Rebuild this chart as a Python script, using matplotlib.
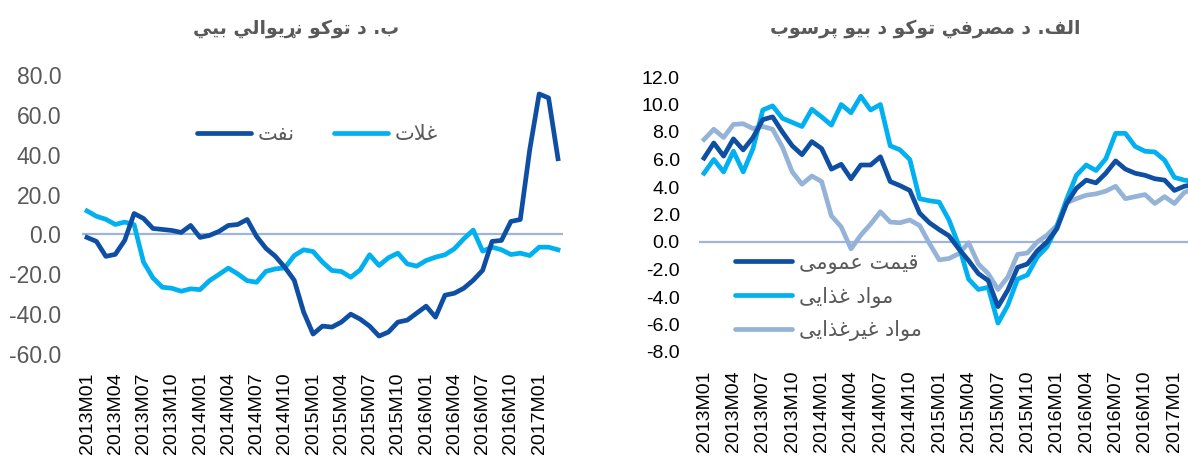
'''
Dos paneles: precios de materias primas (izq.) e inflacion (der.).
'''
import matplotlib
matplotlib.use('Agg')
import matplotlib.pyplot as plt

# Formas de presentacion arabes: (aislada, final, inicial, medial)
FORMS = {
    '\u0627': ('\uFE8D', '\uFE8E', None, None),
    '\u0628': ('\uFE8F', '\uFE90', '\uFE91', '\uFE92'),
    '\u062A': ('\uFE95', '\uFE96', '\uFE97', '\uFE98'),
    '\u062F': ('\uFEA9', '\uFEAA', None, None),
    '\u0630': ('\uFEAB', '\uFEAC', None, None),
    '\u0631': ('\uFEAD', '\uFEAE', None, None),
    '\u0633': ('\uFEB1', '\uFEB2', '\uFEB3', '\uFEB4'),
    '\u0635': ('\uFEB9', '\uFEBA', '\uFEBB', '\uFEBC'),
    '\u0639': ('\uFEC9', '\uFECA', '\uFECB', '\uFECC'),
    '\u063A': ('\uFECD', '\uFECE', '\uFECF', '\uFED0'),
    '\u0641': ('\uFED1', '\uFED2', '\uFED3', '\uFED4'),
    '\u0642': ('\uFED5', '\uFED6', '\uFED7', '\uFED8'),
    '\u0644': ('\uFEDD', '\uFEDE', '\uFEDF', '\uFEE0'),
    '\u0645': ('\uFEE1', '\uFEE2', '\uFEE3', '\uFEE4'),
    '\u0646': ('\uFEE5', '\uFEE6', '\uFEE7', '\uFEE8'),
    '\u0648': ('\uFEED', '\uFEEE', None, None),
    '\u064A': ('\uFEF1', '\uFEF2', '\uFEF3', '\uFEF4'),
    '\u067E': ('\uFB56', '\uFB57', '\uFB58', '\uFB59'),
    '\u06A9': ('\uFB8E', '\uFB8F', '\uFB90', '\uFB91'),
    '\u06CC': ('\uFBFC', '\uFBFD', '\uFBFE', '\uFBFF'),
    '\u0693': ('\u0693', '\u0693', None, None),
}

def shape(txt):
    '''Une las letras y devuelve el texto en orden visual.'''
    out = []
    k = 0
    while k < len(txt):
        c = txt[k]
        if c not in FORMS:
            out.append(c)
            k += 1
            continue
        prev = txt[k-1] if k > 0 else ''
        jp = prev in FORMS and FORMS[prev][2] is not None
        nxt = txt[k+1] if k+1 < len(txt) else ''
        if c == '\u0644' and nxt == '\u0627':
            out.append('\uFEFC' if jp else '\uFEFB')
            k += 2
            continue
        jn = nxt in FORMS and FORMS[c][2] is not None
        iso, fin, ini, med = FORMS[c]
        if jp and jn:
            out.append(med)
        elif jp:
            out.append(fin)
        elif jn:
            out.append(ini)
        else:
            out.append(iso)
        k += 1
    return ''.join(out)[::-1]

#Datos
months = [f'{y}M{m:02d}' for y in range(2013, 2018) for m in range(1, 13)][:51]
tick_labels = months[0:49:3]

oil = [-1.5, -3.5, -11, -10, -3, 10.5, 8, 3, 2.5, 2, 1, 4.5, -1.5, -0.5, 1.5,
       4.5, 5, 7.5, -1, -7, -11, -16.5, -23, -39, -50, -46, -46.5, -44, -40,
       -42.5, -46, -51, -49, -44, -43, -39.5, -36, -41.5, -30.5, -29.5, -27,
       -23, -18, -3.5, -3, 6.5, 7.5, 42.5, 70.5, 68.5, 38]
grains = [11.8, 9.1, 7.6, 5.0, 6.2, 4.9, -13.9, -21.8, -26.5, -27, -28.5,
          -27.3, -27.7, -23.2, -20.1, -16.9, -19.8, -23.2, -24, -18.5, -17.3,
          -16.8, -10.6, -7.7, -8.6, -13.9, -18.1, -18.6, -21.5, -17.8, -10.2,
          -15.6, -11.7, -9.4, -14.8, -15.9, -13.1, -11.4, -10.2, -7.2, -2.2,
          2.2, -8.4, -6.4, -7.7, -10.1, -9.4, -10.6, -6.4, -6.4, -7.7]

cpi_all = [6.1, 7.2, 6.25, 7.5, 6.7, 7.6, 8.9, 9.1, 8.0, 7.0, 6.35, 7.3, 6.8,
           5.3, 5.65, 4.6, 5.6, 5.6, 6.2, 4.4, 4.1, 3.75, 2.1, 1.4, 0.9, 0.45,
           -0.5, -1.35, -2.3, -2.8, -4.7, -3.5, -1.85, -1.6, -0.65, 0.0, 0.95,
           2.8, 3.9, 4.5, 4.3, 5.0, 5.9, 5.3, 5.0, 4.85, 4.6, 4.5, 3.75, 4.05,
           4.2]
cpi_food = [5.0, 6.0, 5.1, 6.6, 5.1, 6.8, 9.6, 9.9, 9.0, 8.7, 8.4, 9.65, 9.1,
            8.5, 10.0, 9.4, 10.6, 9.6, 10.0, 7.0, 6.7, 6.0, 3.15, 3.0, 2.9,
            1.6, -0.25, -2.7, -3.45, -3.3, -5.9, -4.6, -2.7, -2.4, -1.1, -0.35,
            1.1, 3.1, 4.85, 5.6, 5.2, 6.05, 7.9, 7.9, 6.95, 6.6, 6.55, 5.95,
            4.7, 4.5, 4.4]
cpi_nonfood = [7.45, 8.2, 7.6, 8.55, 8.6, 8.25, 8.4, 8.2, 6.9, 5.1, 4.2, 4.8,
               4.4, 1.9, 1.1, -0.5, 0.5, 1.3, 2.2, 1.45, 1.4, 1.6, 1.2, -0.1,
               -1.3, -1.2, -0.85, -0.05, -1.6, -2.3, -3.45, -2.55, -0.9, -0.8,
               0.0, 0.5, 1.2, 2.85, 3.15, 3.4, 3.5, 3.7, 4.05, 3.15, 3.3, 3.45,
               2.8, 3.3, 2.8, 3.6, 3.9]

title_left = 'ب. د توکو نړیوالي بیي'
title_right = 'الف. د مصرفي توکو د بیو پرسوب'
names_left = ['نفت', 'غلات']
names_right = ['قیمت عمومی', 'مواد غذایی', 'مواد غیرغذایی']

plt.rcParams['font.family'] = ['Liberation Sans', 'DejaVu Sans']
dark = '#0E4EA3'
light = '#00B0F0'
pale = '#95B3D7'
gray = '#595959'
W, H = 1188, 457

fig = plt.figure(figsize=(W/100, H/100), dpi=100)
ax1 = fig.add_axes([82.3/W, 1-354/H, (562.7-82.3)/W, (354-75)/H])
ax2 = fig.add_axes([699.1/W, 1-352/H, (1198.9-699.1)/W, (352-77)/H])

x = list(range(len(months)))
for ax in (ax1, ax2):
    for s in ax.spines.values():
        s.set_visible(False)
    ax.axhline(0, color='#9DB5DC', lw=1.6, zorder=1)
    ax.set_xlim(-0.5, 50.5)
    ax.set_xticks(x[0:49:3])
    ax.set_xticklabels(tick_labels, rotation=90, fontsize=14)
    ax.tick_params(length=0, axis='x', pad=13)

ax1.plot(x, oil, color=dark, lw=3.4, label=shape(names_left[0]), zorder=3)
ax1.plot(x, grains, color=light, lw=3.4, label=shape(names_left[1]), zorder=2)
ax1.set_ylim(-60, 80)
ax1.set_yticks(range(-60, 81, 20))
ax1.set_yticklabels(['%.1f' % v for v in range(-60, 81, 20)], fontsize=16.5, color=gray)
ax1.tick_params(length=0, axis='y', pad=15)

ax2.plot(x, cpi_nonfood, color=pale, lw=3.4, label=shape(names_right[2]), zorder=2)
ax2.plot(x, cpi_food, color=light, lw=3.4, label=shape(names_right[1]), zorder=3)
ax2.plot(x, cpi_all, color=dark, lw=3.4, label=shape(names_right[0]), zorder=4)
ax2.set_ylim(-8, 12)
ax2.set_yticks(range(-8, 13, 2))
ax2.set_yticklabels(['%.1f' % v for v in range(-8, 13, 2)], fontsize=14, color='black')
ax2.tick_params(length=0, axis='y', pad=14)

leg1 = ax1.legend(ncol=2, frameon=False, loc='center left',
                  bbox_to_anchor=(197/W, 1-134/H), bbox_transform=fig.transFigure,
                  borderpad=0, borderaxespad=0, handlelength=2.6,
                  handletextpad=0.3, columnspacing=1.9,
                  prop={'family': 'DejaVu Sans', 'size': 15})
h, l = ax2.get_legend_handles_labels()
leg2 = ax2.legend(h[::-1], l[::-1], frameon=False, loc='center left',
                  bbox_to_anchor=(735/W, 1-297/H), bbox_transform=fig.transFigure,
                  borderpad=0, borderaxespad=0, handlelength=2.75,
                  handletextpad=0.3, labelspacing=0.62,
                  prop={'family': 'DejaVu Sans', 'size': 15})
for leg in (leg1, leg2):
    for t in leg.get_texts():
        t.set_color(gray)
    for ln in leg.get_lines():
        ln.set_solid_capstyle('round')

fig.text(296/W, 1-28/H, shape(title_left), ha='center', va='center',
         fontsize=13.5, fontweight='bold', color=gray, family='DejaVu Sans')
fig.text(925/W, 1-28/H, shape(title_right), ha='center', va='center',
         fontsize=13.5, fontweight='bold', color=gray, family='DejaVu Sans')

plt.savefig('out.png', dpi=100)
